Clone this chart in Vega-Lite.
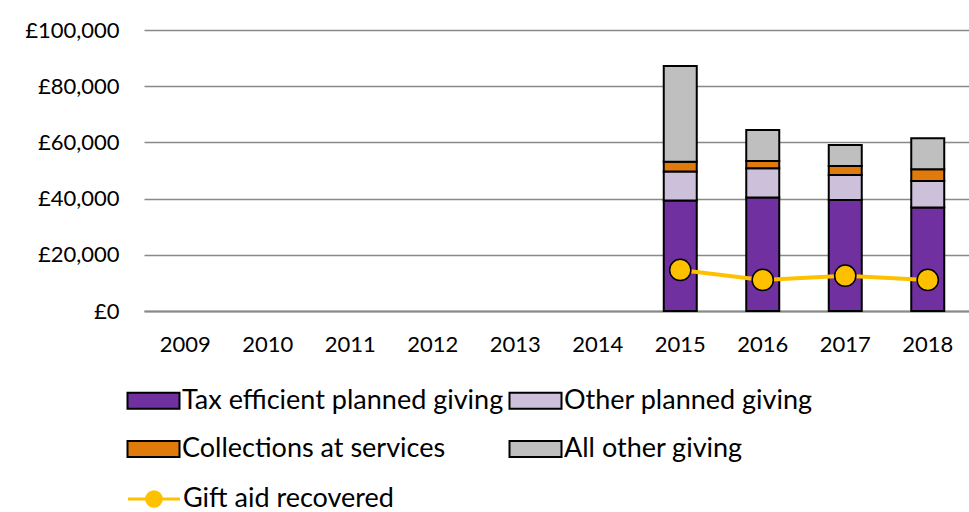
{
  "$schema": "https://vega.github.io/schema/vega-lite/v6.json",
  "width": 825,
  "height": 281,
  "autosize": "none",
  "padding": {"left": 144, "top": 30, "right": 0, "bottom": 201},
  "background": "#ffffff",
  "config": {
    "view": {"stroke": null},
    "font": "Lato",
    "axis": {"labelFont": "Lato", "labelFontSize": 22, "labelColor": "#000000", "title": null},
    "legend": {"labelFont": "Lato", "labelFontSize": 27, "labelColor": "#000000", "labelLimit": 400}
  },
  "datasets": {
    "giving": [
      {"year": "2015", "category": "Tax efficient planned giving", "value": 39300},
      {"year": "2015", "category": "Other planned giving", "value": 10300},
      {"year": "2015", "category": "Collections at services", "value": 3550},
      {"year": "2015", "category": "All other giving", "value": 34000},
      {"year": "2016", "category": "Tax efficient planned giving", "value": 40350},
      {"year": "2016", "category": "Other planned giving", "value": 10450},
      {"year": "2016", "category": "Collections at services", "value": 2600},
      {"year": "2016", "category": "All other giving", "value": 11050},
      {"year": "2017", "category": "Tax efficient planned giving", "value": 39500},
      {"year": "2017", "category": "Other planned giving", "value": 8900},
      {"year": "2017", "category": "Collections at services", "value": 3220},
      {"year": "2017", "category": "All other giving", "value": 7480},
      {"year": "2018", "category": "Tax efficient planned giving", "value": 36800},
      {"year": "2018", "category": "Other planned giving", "value": 9500},
      {"year": "2018", "category": "Collections at services", "value": 4150},
      {"year": "2018", "category": "All other giving", "value": 11000}
    ],
    "giftaid": [
      {"year": "2015", "series": "Gift aid recovered", "value": 14600},
      {"year": "2016", "series": "Gift aid recovered", "value": 11040},
      {"year": "2017", "series": "Gift aid recovered", "value": 12570},
      {"year": "2018", "series": "Gift aid recovered", "value": 11040}
    ]
  },
  "encoding": {
    "x": {
      "field": "year",
      "type": "nominal",
      "scale": {
        "domain": ["2009", "2010", "2011", "2012", "2013", "2014", "2015", "2016", "2017", "2018"],
        "paddingInner": 0.6,
        "paddingOuter": 0.3
      },
      "axis": {"labelAngle": 0, "ticks": false, "domainColor": "#898989", "domainWidth": 2, "labelPadding": 23, "grid": false}
    }
  },
  "layer": [
    {
      "data": {"name": "giving"},
      "transform": [
        {"calculate": "indexof(['Tax efficient planned giving','Other planned giving','Collections at services','All other giving'], datum.category)", "as": "stackOrder"}
      ],
      "mark": {"type": "bar", "stroke": "#000000", "strokeWidth": 2},
      "encoding": {
        "y": {
          "field": "value",
          "type": "quantitative",
          "stack": "zero",
          "scale": {"domain": [0, 100000], "nice": false},
          "axis": {
            "values": [0, 20000, 40000, 60000, 80000, 100000],
            "labelExpr": "'£' + format(datum.value, ',')",
            "grid": true,
            "gridColor": "#898989",
            "gridWidth": 1.5,
            "domain": false,
            "ticks": false,
            "labelPadding": 25
          }
        },
        "fill": {
          "field": "category",
          "type": "nominal",
          "scale": {
            "domain": ["Tax efficient planned giving", "Other planned giving", "Collections at services", "All other giving"],
            "range": ["#7030A0", "#CCC0DA", "#E07B0B", "#BFBFBF"]
          },
          "legend": {
            "title": null,
            "orient": "none",
            "direction": "horizontal",
            "legendX": -8,
            "legendY": 353,
            "columns": 2,
            "columnPadding": 1,
            "rowPadding": 17.5,
            "symbolType": "M-1.6,-0.5H1.6V0.5H-1.6Z",
            "symbolSize": 1056,
            "symbolStrokeColor": "#000000",
            "symbolStrokeWidth": 2,
            "labelOffset": 11
          }
        },
        "order": {"field": "stackOrder"}
      }
    },
    {
      "data": {"name": "giftaid"},
      "mark": {"type": "line", "strokeWidth": 4},
      "encoding": {
        "y": {"field": "value", "type": "quantitative"},
        "stroke": {
          "field": "series",
          "type": "nominal",
          "scale": {"domain": ["Gift aid recovered"], "range": ["#FFC000"]},
          "legend": {
            "title": null,
            "orient": "none",
            "legendX": -8,
            "legendY": 451,
            "symbolType": "M-1.6,0H-0.45M0.45,0H1.6M-0.45,0A0.45,0.45,0,1,0,0.45,0A0.45,0.45,0,1,0,-0.45,0Z",
            "symbolSize": 1056,
            "symbolStrokeWidth": 3,
            "symbolFillColor": "#FFC000",
            "labelOffset": 11
          }
        }
      }
    },
    {
      "data": {"name": "giftaid"},
      "mark": {"type": "point", "shape": "circle", "filled": true, "size": 450, "fill": "#FFC000", "stroke": "#000000", "strokeWidth": 1.5, "opacity": 1},
      "encoding": {
        "y": {"field": "value", "type": "quantitative"}
      }
    }
  ]
}
